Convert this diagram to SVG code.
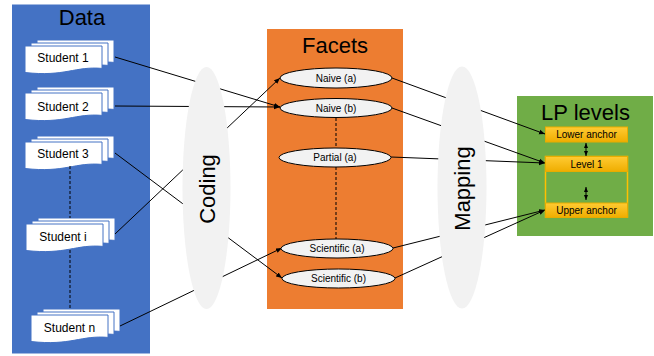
<svg xmlns="http://www.w3.org/2000/svg" width="654" height="356" viewBox="0 0 654 356">
<style>
.title{font-family:"Liberation Sans",Arial,sans-serif;font-size:22px;fill:#000;text-anchor:middle}
.stu{font-family:"Liberation Sans",Arial,sans-serif;font-size:12px;fill:#000;text-anchor:middle}
.fac{font-family:"Liberation Sans",Arial,sans-serif;font-size:10px;fill:#000;text-anchor:middle}
.page{fill:#fff;stroke:#4472C4;stroke-width:1}
.facet{fill:#F2F2F2;stroke:#000;stroke-width:1}
.big{fill:#F2F2F2}
.conn{stroke:#000;stroke-width:1;fill:none}
.dash{stroke:#000;stroke-width:1;stroke-dasharray:3,2;fill:none}
.lvl{fill:url(#gold);stroke:#E8AC00;stroke-width:1}
</style>
<defs>
<linearGradient id="gold" x1="0" y1="0" x2="0" y2="1">
<stop offset="0" stop-color="#FFCB33"/>
<stop offset="1" stop-color="#EFAD00"/>
</linearGradient>
<marker id="arr" viewBox="0 0 10 10" refX="10" refY="5" markerWidth="6" markerHeight="6" markerUnits="userSpaceOnUse" orient="auto">
<path d="M0,1 L10,5 L0,9 Z" fill="#000"/>
</marker>
<marker id="arrs" viewBox="0 0 10 10" refX="10" refY="5" markerWidth="5" markerHeight="5" markerUnits="userSpaceOnUse" orient="auto-start-reverse">
<path d="M0,1 L10,5 L0,9 Z" fill="#000"/>
</marker>
<path id="doc" d="M0,0 H77 V22.4 C50,20 40,31 0,26.5 Z"/>
</defs>

<!-- panels -->
<g id="data-panel">
<rect x="12" y="4.5" width="138" height="349" fill="#4472C4"/>
<text class="title" x="82" y="25">Data</text>
</g>
<g id="facets-panel">
<rect x="267" y="29" width="136" height="280" fill="#ED7D31"/>
<text class="title" x="335" y="53">Facets</text>
</g>
<g id="lp-panel">
<rect x="517" y="96" width="136" height="140" fill="#70AD47"/>
<text class="title" x="585.5" y="120">LP levels</text>
</g>

<!-- students -->
<g id="student-1">
<use href="#doc" class="page" x="37" y="40"/>
<use href="#doc" class="page" x="31" y="43"/>
<use href="#doc" class="page" x="25" y="46"/>
<text class="stu" x="63" y="62">Student 1</text>
</g>
<g id="student-2">
<use href="#doc" class="page" x="37" y="87"/>
<use href="#doc" class="page" x="31" y="90"/>
<use href="#doc" class="page" x="25" y="93"/>
<text class="stu" x="63" y="111">Student 2</text>
</g>
<g id="student-3">
<use href="#doc" class="page" x="37" y="136"/>
<use href="#doc" class="page" x="31" y="139"/>
<use href="#doc" class="page" x="25" y="142"/>
<text class="stu" x="63" y="158">Student 3</text>
</g>
<g id="student-i">
<use href="#doc" class="page" x="38" y="218"/>
<use href="#doc" class="page" x="32" y="221"/>
<use href="#doc" class="page" x="26" y="224"/>
<text class="stu" x="63" y="241">Student i</text>
</g>
<g id="student-n">
<use href="#doc" class="page" x="43" y="309"/>
<use href="#doc" class="page" x="37" y="312"/>
<use href="#doc" class="page" x="31" y="315"/>
<text class="stu" x="69.5" y="332">Student n</text>
</g>

<!-- connectors -->
<g id="connectors">
<line class="dash" x1="70" y1="166" x2="70" y2="218"/>
<line class="dash" x1="70" y1="250" x2="70" y2="308"/>
<line class="dash" x1="336" y1="118" x2="336" y2="148"/>
<line class="dash" x1="336" y1="167" x2="336" y2="239"/>
<line class="conn" x1="115" y1="57" x2="280" y2="107" marker-end="url(#arr)"/>
<line class="conn" x1="115" y1="106" x2="280" y2="107" marker-end="url(#arr)"/>
<line class="conn" x1="115" y1="153" x2="282" y2="278" marker-end="url(#arr)"/>
<line class="conn" x1="115" y1="234" x2="280" y2="78" marker-end="url(#arr)"/>
<line class="conn" x1="120" y1="326" x2="282" y2="248" marker-end="url(#arr)"/>
<line class="conn" x1="392" y1="78" x2="545" y2="134" marker-end="url(#arr)"/>
<line class="conn" x1="392" y1="108" x2="545" y2="163" marker-end="url(#arr)"/>
<line class="conn" x1="391" y1="157" x2="545" y2="163" marker-end="url(#arr)"/>
<line class="conn" x1="393" y1="248" x2="545" y2="210" marker-end="url(#arr)"/>
<line class="conn" x1="395" y1="278" x2="545" y2="210" marker-end="url(#arr)"/>
<line class="conn" x1="545.5" y1="163" x2="545.5" y2="211"/>
</g>

<!-- process ellipses -->
<g id="coding">
<ellipse class="big" cx="206.5" cy="188" rx="24" ry="121"/>
<text class="title" transform="translate(215,189) rotate(-90)">Coding</text>
</g>
<g id="mapping">
<ellipse class="big" cx="462" cy="187.5" rx="24.5" ry="121"/>
<text class="title" transform="translate(470,188.5) rotate(-90)">Mapping</text>
</g>

<!-- facets -->
<g id="naive-a">
<ellipse class="facet" cx="336" cy="78" rx="56" ry="10"/>
<text class="fac" x="336" y="81.5">Naive (a)</text>
</g>
<g id="naive-b">
<ellipse class="facet" cx="336" cy="108" rx="56" ry="9.5"/>
<text class="fac" x="336" y="111.5">Naive (b)</text>
</g>
<g id="partial-a">
<ellipse class="facet" cx="335" cy="157.5" rx="56" ry="9.5"/>
<text class="fac" x="335" y="161">Partial (a)</text>
</g>
<g id="scientific-a">
<ellipse class="facet" cx="337" cy="248.5" rx="56" ry="9.5"/>
<text class="fac" x="337" y="252">Scientific (a)</text>
</g>
<g id="scientific-b">
<ellipse class="facet" cx="338.5" cy="278.5" rx="56.5" ry="9.5"/>
<text class="fac" x="338.5" y="282">Scientific (b)</text>
</g>

<!-- LP levels -->
<g id="level-frame">
<rect x="545.5" y="156.5" width="82" height="60.5" fill="none" stroke="#FFC000" stroke-width="1.5"/>
</g>
<g id="lower-anchor">
<rect class="lvl" x="545.5" y="127" width="82" height="15"/>
<text class="fac" x="586.5" y="138">Lower anchor</text>
</g>
<g id="level-1">
<rect class="lvl" x="545.5" y="156.5" width="82" height="15"/>
<text class="fac" x="586.5" y="167.5">Level 1</text>
</g>
<g id="upper-anchor">
<rect class="lvl" x="545.5" y="203" width="82" height="14.5"/>
<text class="fac" x="586.5" y="214">Upper anchor</text>
</g>
<g id="level-arrows">
<line class="conn" x1="586" y1="143" x2="586" y2="156" marker-start="url(#arrs)" marker-end="url(#arrs)"/>
<line class="conn" x1="586" y1="187" x2="586" y2="200" marker-start="url(#arrs)" marker-end="url(#arrs)"/>
</g>
</svg>
